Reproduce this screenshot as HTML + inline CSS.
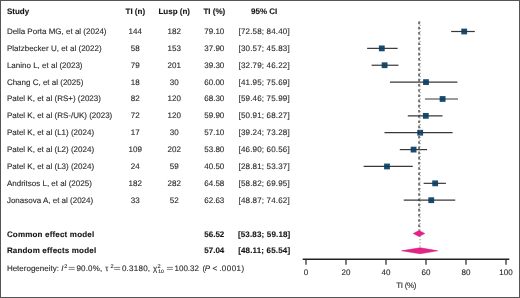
<!DOCTYPE html>
<html><head><meta charset="utf-8"><style>
html,body{margin:0;padding:0;background:#fff;}
body{width:520px;height:298px;overflow:hidden;}
svg{display:block;will-change:transform;}
text{text-rendering:geometricPrecision;font-family:"Liberation Sans",sans-serif;font-size:8px;fill:#2a2a2a;stroke:#2a2a2a;stroke-width:0.12px;}
text.b{font-weight:bold;fill:#111;}
text.bb{letter-spacing:0.18px;}
text.m{text-anchor:middle;}
text.ci{letter-spacing:0.16px;}
text.xl{letter-spacing:-0.3px;}
text.i{font-style:italic;}
text.sup{font-size:5.5px;}
.eq{stroke:#666;stroke-width:0.8;}
.cil{stroke:#383838;stroke-width:1.2;}
.sq{fill:#1a4c70;}
.cil2{stroke:#0d2a40;stroke-width:0.8;opacity:0.6;}
.dash{stroke:#2a2a2a;stroke-width:1.25;stroke-dasharray:2.6 2.6;}
.dot{stroke:#777;stroke-width:1;stroke-dasharray:1 2.2;}
.dia{fill:#e4228a;stroke:#c81470;stroke-width:0.5;stroke-linejoin:miter;}
.ax{stroke:#222;stroke-width:1.5;}
.tk{stroke:#222;stroke-width:1.2;}
.border{fill:none;stroke:#555;stroke-width:1;}
</style></head><body>
<svg width="520" height="298" viewBox="0 0 520 298">
<rect class="border" x="0.5" y="0.5" width="519" height="297"/>
<line class="cil" x1="451.16" x2="474.80" y1="31.50" y2="31.50"/>
<rect class="sq" x="461.30" y="28.60" width="5.8" height="5.8"/>
<line class="cil2" x1="461.30" x2="467.10" y1="31.50" y2="31.50"/>
<line class="cil" x1="367.14" x2="397.66" y1="48.37" y2="48.37"/>
<rect class="sq" x="378.90" y="45.47" width="5.8" height="5.8"/>
<line class="cil2" x1="378.90" x2="384.70" y1="48.37" y2="48.37"/>
<line class="cil" x1="371.58" x2="398.44" y1="65.24" y2="65.24"/>
<rect class="sq" x="381.70" y="62.34" width="5.8" height="5.8"/>
<line class="cil2" x1="381.70" x2="387.50" y1="65.24" y2="65.24"/>
<line class="cil" x1="389.90" x2="457.38" y1="82.11" y2="82.11"/>
<rect class="sq" x="423.10" y="79.21" width="5.8" height="5.8"/>
<line class="cil2" x1="423.10" x2="428.90" y1="82.11" y2="82.11"/>
<line class="cil" x1="424.92" x2="457.98" y1="98.98" y2="98.98"/>
<rect class="sq" x="439.70" y="96.08" width="5.8" height="5.8"/>
<line class="cil2" x1="439.70" x2="445.50" y1="98.98" y2="98.98"/>
<line class="cil" x1="407.82" x2="442.54" y1="115.85" y2="115.85"/>
<rect class="sq" x="422.90" y="112.95" width="5.8" height="5.8"/>
<line class="cil2" x1="422.90" x2="428.70" y1="115.85" y2="115.85"/>
<line class="cil" x1="384.48" x2="452.56" y1="132.72" y2="132.72"/>
<rect class="sq" x="417.30" y="129.82" width="5.8" height="5.8"/>
<line class="cil2" x1="417.30" x2="423.10" y1="132.72" y2="132.72"/>
<line class="cil" x1="399.80" x2="427.12" y1="149.59" y2="149.59"/>
<rect class="sq" x="410.70" y="146.69" width="5.8" height="5.8"/>
<line class="cil2" x1="410.70" x2="416.50" y1="149.59" y2="149.59"/>
<line class="cil" x1="363.62" x2="412.74" y1="166.46" y2="166.46"/>
<rect class="sq" x="384.10" y="163.56" width="5.8" height="5.8"/>
<line class="cil2" x1="384.10" x2="389.90" y1="166.46" y2="166.46"/>
<line class="cil" x1="423.64" x2="445.90" y1="183.33" y2="183.33"/>
<rect class="sq" x="432.26" y="180.43" width="5.8" height="5.8"/>
<line class="cil2" x1="432.26" x2="438.06" y1="183.33" y2="183.33"/>
<line class="cil" x1="403.74" x2="455.24" y1="200.20" y2="200.20"/>
<rect class="sq" x="428.36" y="197.30" width="5.8" height="5.8"/>
<line class="cil2" x1="428.36" x2="434.16" y1="200.20" y2="200.20"/>
<line class="eq" x1="68.7" x2="74.7" y1="267.4" y2="267.4"/>
<line class="eq" x1="68.7" x2="74.7" y1="269.4" y2="269.4"/>
<line class="eq" x1="114.1" x2="120.1" y1="267.4" y2="267.4"/>
<line class="eq" x1="114.1" x2="120.1" y1="269.4" y2="269.4"/>
<line class="eq" x1="166.9" x2="172.9" y1="267.4" y2="267.4"/>
<line class="eq" x1="166.9" x2="172.9" y1="269.4" y2="269.4"/>
<line class="dash" x1="419.04" x2="419.04" y1="21.6" y2="230.50"/>
<line class="dot" x1="420.08" x2="420.08" y1="21.6" y2="247.75"/>
<polygon class="dia" points="413.26,233.50 419.04,230.50 424.76,233.50 419.04,236.50"/>
<polygon class="dia" points="401.62,250.75 420.08,247.75 437.68,250.75 420.08,253.75"/>
<line class="ax" x1="302.7" x2="509.3" y1="259.30" y2="259.30"/>
<line class="tk" x1="306.00" x2="306.00" y1="259.30" y2="264.8"/>
<line class="tk" x1="346.00" x2="346.00" y1="259.30" y2="264.8"/>
<line class="tk" x1="386.00" x2="386.00" y1="259.30" y2="264.8"/>
<line class="tk" x1="426.00" x2="426.00" y1="259.30" y2="264.8"/>
<line class="tk" x1="466.00" x2="466.00" y1="259.30" y2="264.8"/>
<line class="tk" x1="506.00" x2="506.00" y1="259.30" y2="264.8"/>
<text class="b" x="6.9" y="13.9">Study</text>
<text class="b m" x="135.3" y="13.9">TI (n)</text>
<text class="b m" x="174.2" y="13.9">Lusp (n)</text>
<text class="b m" x="214.3" y="13.9">TI (%)</text>
<text class="b m" x="264.2" y="13.9">95% CI</text>
<text x="6.9" y="33.90">Della Porta MG, et al (2024)</text>
<text class="m" x="135.3" y="33.90">144</text>
<text class="m" x="174.2" y="33.90">182</text>
<text class="m" x="214.3" y="33.90">79.10</text>
<text class="m ci" x="264.2" y="33.90">[72.58; 84.40]</text>
<text x="6.9" y="50.77">Platzbecker U, et al (2022)</text>
<text class="m" x="135.3" y="50.77">58</text>
<text class="m" x="174.2" y="50.77">153</text>
<text class="m" x="214.3" y="50.77">37.90</text>
<text class="m ci" x="264.2" y="50.77">[30.57; 45.83]</text>
<text x="6.9" y="67.64">Lanino L, et al (2023)</text>
<text class="m" x="135.3" y="67.64">79</text>
<text class="m" x="174.2" y="67.64">201</text>
<text class="m" x="214.3" y="67.64">39.30</text>
<text class="m ci" x="264.2" y="67.64">[32.79; 46.22]</text>
<text x="6.9" y="84.51">Chang C, et al (2025)</text>
<text class="m" x="135.3" y="84.51">18</text>
<text class="m" x="174.2" y="84.51">30</text>
<text class="m" x="214.3" y="84.51">60.00</text>
<text class="m ci" x="264.2" y="84.51">[41.95; 75.69]</text>
<text x="6.9" y="101.38">Patel K, et al (RS+) (2023)</text>
<text class="m" x="135.3" y="101.38">82</text>
<text class="m" x="174.2" y="101.38">120</text>
<text class="m" x="214.3" y="101.38">68.30</text>
<text class="m ci" x="264.2" y="101.38">[59.46; 75.99]</text>
<text x="6.9" y="118.25">Patel K, et al (RS-/UK) (2023)</text>
<text class="m" x="135.3" y="118.25">72</text>
<text class="m" x="174.2" y="118.25">120</text>
<text class="m" x="214.3" y="118.25">59.90</text>
<text class="m ci" x="264.2" y="118.25">[50.91; 68.27]</text>
<text x="6.9" y="135.12">Patel K, et al (L1) (2024)</text>
<text class="m" x="135.3" y="135.12">17</text>
<text class="m" x="174.2" y="135.12">30</text>
<text class="m" x="214.3" y="135.12">57.10</text>
<text class="m ci" x="264.2" y="135.12">[39.24; 73.28]</text>
<text x="6.9" y="151.99">Patel K, et al (L2) (2024)</text>
<text class="m" x="135.3" y="151.99">109</text>
<text class="m" x="174.2" y="151.99">202</text>
<text class="m" x="214.3" y="151.99">53.80</text>
<text class="m ci" x="264.2" y="151.99">[46.90; 60.56]</text>
<text x="6.9" y="168.86">Patel K, et al (L3) (2024)</text>
<text class="m" x="135.3" y="168.86">24</text>
<text class="m" x="174.2" y="168.86">59</text>
<text class="m" x="214.3" y="168.86">40.50</text>
<text class="m ci" x="264.2" y="168.86">[28.81; 53.37]</text>
<text x="6.9" y="185.73">Andritsos L, et al (2025)</text>
<text class="m" x="135.3" y="185.73">182</text>
<text class="m" x="174.2" y="185.73">282</text>
<text class="m" x="214.3" y="185.73">64.58</text>
<text class="m ci" x="264.2" y="185.73">[58.82; 69.95]</text>
<text x="6.9" y="202.60">Jonasova A, et al (2024)</text>
<text class="m" x="135.3" y="202.60">33</text>
<text class="m" x="174.2" y="202.60">52</text>
<text class="m" x="214.3" y="202.60">62.63</text>
<text class="m ci" x="264.2" y="202.60">[48.87; 74.62]</text>
<text class="b bb" x="6.9" y="236.70">Common effect model</text>
<text class="b bb" x="6.9" y="253.40">Random effects model</text>
<text class="b m" x="214.3" y="236.70">56.52</text>
<text class="b m ci" x="264.2" y="236.70">[53.83; 59.18]</text>
<text class="b m" x="214.3" y="253.40">57.04</text>
<text class="b m ci" x="264.2" y="253.40">[48.11; 65.54]</text>
<text class="" x="6.9" y="271.2" style="letter-spacing:0.00px">Heterogeneity:</text>
<text class="i" x="61.2" y="271.2" style="letter-spacing:0.00px">I</text>
<text class="" x="76.5" y="271.2" style="letter-spacing:0.15px">90.0%,</text>
<text class="" x="105.2" y="271.2" style="letter-spacing:0.00px">τ</text>
<text class="" x="121.9" y="271.2" style="letter-spacing:0.25px">0.3180,</text>
<text class="" x="153.0" y="271.2" style="letter-spacing:0.00px">χ</text>
<text class="" x="174.5" y="271.2" style="letter-spacing:0.00px">100.32</text>
<text class="" x="202.4" y="271.2" style="letter-spacing:0.00px">(</text>
<text class="i" x="204.7" y="271.2" style="letter-spacing:0.00px">P</text>
<text class="" x="212.6" y="271.2" style="letter-spacing:0.00px">&lt;</text>
<text class="" x="219.2" y="271.2" style="letter-spacing:0.46px">.0001)</text>
<text class="sup" x="64.2" y="268.0" style="font-size:5.5px">2</text>
<text class="sup" x="110.6" y="268.0" style="font-size:5.5px">2</text>
<text class="sup" x="157.4" y="268.0" style="font-size:5.5px">2</text>
<text class="sup" x="158.2" y="272.9" style="font-size:5.0px">10</text>
<text class="m" x="306.00" y="274.7">0</text>
<text class="m" x="346.00" y="274.7">20</text>
<text class="m" x="386.00" y="274.7">40</text>
<text class="m" x="426.00" y="274.7">60</text>
<text class="m" x="466.00" y="274.7">80</text>
<text class="m" x="506.00" y="274.7">100</text>
<text class="m xl" x="406.2" y="288.3">TI (%)</text>
</svg>
</body></html>
